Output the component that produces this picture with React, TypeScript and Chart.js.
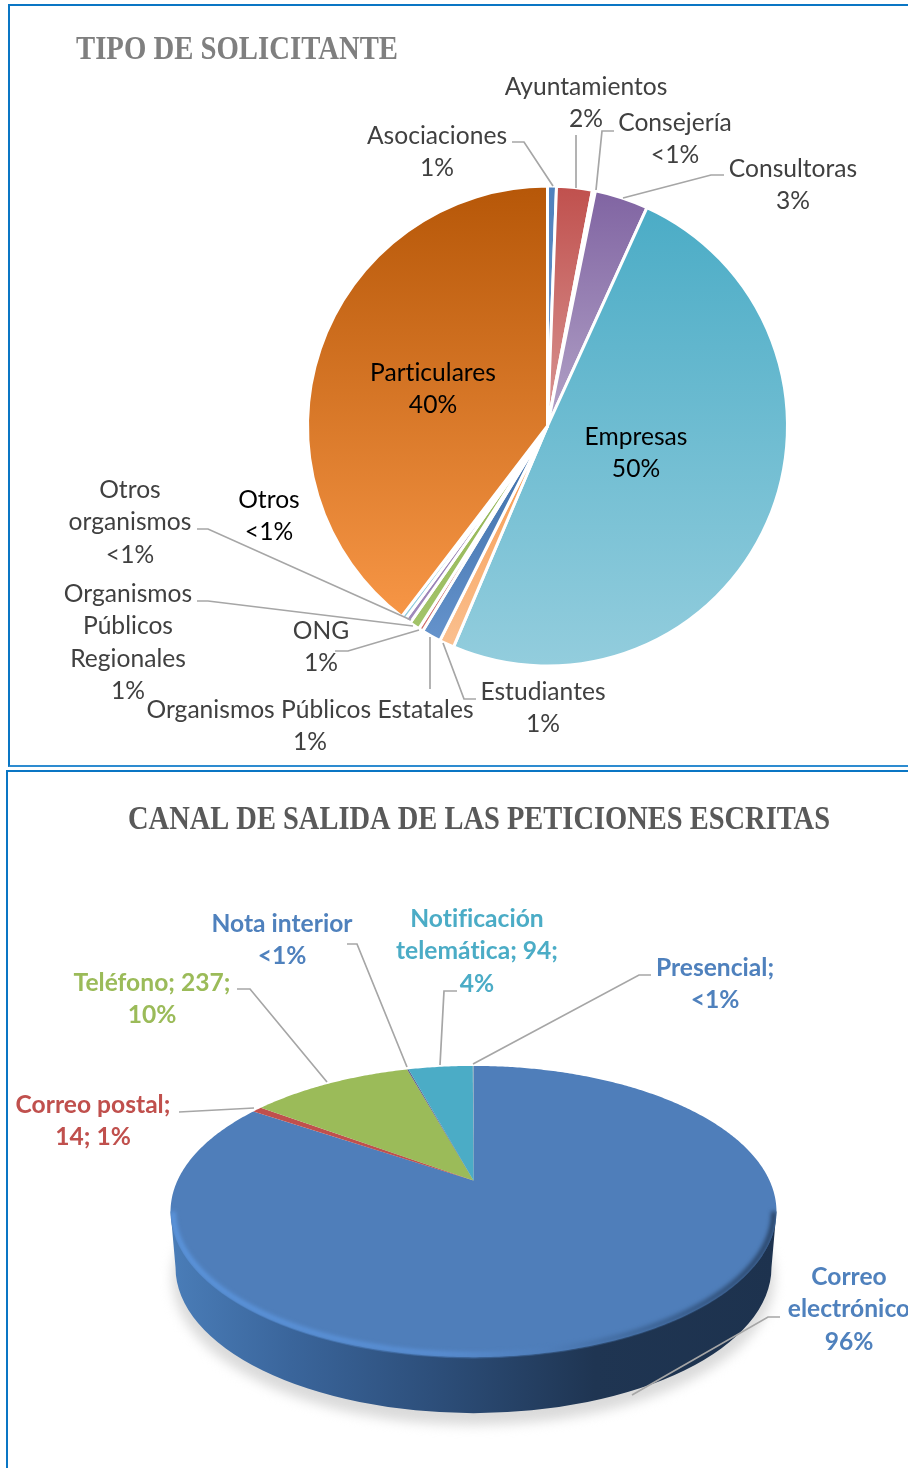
import React, { useEffect, useRef } from "react";
import { Chart, registerables } from "chart.js";

Chart.register(...registerables);

// ---------- data ----------
const SOL_CATEGORIES = ["Asociaciones", "Ayuntamientos", "Consejería", "Consultoras", "Empresas", "Estudiantes", "Organismos Públicos Estatales", "ONG", "Organismos Públicos Regionales", "Otros organismos", "Otros", "Particulares"];
const SOL_VALUES = [0.6, 2.4, 0.2, 3.6, 49.6, 1.0, 1.3, 0.3, 0.7, 0.4, 0.3, 39.6];
const CANAL_CATEGORIES = ["Correo electrónico", "Correo postal", "Teléfono", "Nota interior", "Notificación telemática", "Presencial"];
const CANAL_VALUES = [1880, 14, 237, 2, 94, 1];

// ---------- styles ----------
const SOL_TOP = ["#4F81BD", "#C0504D", "#9BBB59", "#8064A2", "#4BACC6", "#F79646", "#3A6BA5", "#C0504D", "#8FB04E", "#8064A2", "#4BACC6", "#B65708"];
const SOL_BOTTOM = ["#6E98CC", "#D99694", "#C3D69B", "#B2A2C7", "#93CDDD", "#FAC090", "#6593CC", "#D0706D", "#A3C46A", "#A18CBC", "#93CDDD", "#F79646"];
const CANAL_COLORS = ["#4F7EBA", "#C0504D", "#9BBB59", "#5F5F8A", "#4BACC6", "#7FA0B0"];
const INK = "#404040";
const LEADER = "#A6A6A6";
const SANS = "Lato";
const W = 908;
const TOP1_H = 768;
const TOP2_H = 700;
const TOP2_Y = 768;

type Lab = { lines: string[]; x: number; y: number; dy?: number; color?: string; leader?: number[][] };

const SOL_LABELS: Lab[] = [
  { lines: ["Asociaciones", "1%"], x: 437, y: 135, leader: [[512, 142], [524, 142], [553, 186]] },
  { lines: ["Ayuntamientos", "2%"], x: 586, y: 86, leader: [[576, 135], [576, 188]] },
  { lines: ["Consejería", "<1%"], x: 675, y: 122, leader: [[614, 131], [602, 131], [596, 190]] },
  { lines: ["Consultoras", "3%"], x: 793, y: 168, leader: [[724, 175], [711, 175], [623, 198]] },
  { lines: ["Particulares", "40%"], x: 433, y: 372, color: "#000" },
  { lines: ["Empresas", "50%"], x: 636, y: 436, color: "#000" },
  { lines: ["Otros", "<1%"], x: 269, y: 499, color: "#000" },
  { lines: ["Otros", "organismos", "<1%"], x: 130, y: 489, leader: [[197, 529], [208, 529], [411, 620]] },
  { lines: ["Organismos", "Públicos", "Regionales", "1%"], x: 128, y: 593, leader: [[197, 601], [208, 601], [413, 626]] },
  { lines: ["ONG", "1%"], x: 321, y: 630, leader: [[335, 651], [348, 651], [419, 630]] },
  { lines: ["Organismos Públicos Estatales", "1%"], x: 310, y: 709, leader: [[430, 637], [430, 689]] },
  { lines: ["Estudiantes", "1%"], x: 543, y: 691, leader: [[476, 699], [464, 699], [443, 643]] },
];

const BLUE = "#4F81BD";
const CANAL_LABELS: Lab[] = [
  { lines: ["Correo postal;", "14; 1%"], x: 93, y: 1104, color: "#C0504D", leader: [[179, 1112], [254, 1108]] },
  { lines: ["Teléfono; 237;", "10%"], x: 152, y: 982, color: "#9BBB59", leader: [[237, 989], [250, 989], [327, 1082]] },
  { lines: ["Nota interior", "<1%"], x: 282, y: 923, color: BLUE, leader: [[347, 944], [357, 944], [407, 1067]] },
  { lines: ["Notificación", "telemática; 94;", "4%"], x: 477, y: 918, color: "#4BACC6", leader: [[457, 991], [444, 991], [440, 1065]] },
  { lines: ["Presencial;", "<1%"], x: 715, y: 967, color: BLUE, leader: [[651, 975], [639, 975], [473, 1064]] },
  { lines: ["Correo", "electrónico", "96%"], x: 849, y: 1276, color: BLUE, leader: [[780, 1317], [768, 1317], [632, 1395]] },
];

// ---------- plugins ----------
type Title = { text: string; x: number; y: number; width: number; align: CanvasTextAlign; color: string; font: string };
function annotations(id: string, title: Title, labels: Lab[], font: string, offY: number) {
  return {
    id,
    afterDraw(chart: any) {
      const c: any = chart.ctx;
      c.save();
      c.font = title.font;
      c.fillStyle = title.color;
      c.textAlign = title.align;
      c.textBaseline = "middle";
      c.fillText(title.text, title.x, title.y - offY, title.width);
      for (const l of labels) {
        if (l.leader) {
          c.strokeStyle = LEADER;
          c.lineWidth = 1.7;
          c.beginPath();
          l.leader.forEach((p, i) => (i ? c.lineTo(p[0], p[1] - offY) : c.moveTo(p[0], p[1] - offY)));
          c.stroke();
        }
      }
      c.font = font;
      c.textAlign = "center";
      c.letterSpacing = "0.01px"; // keeps "ti" from forming a ligature
      for (const l of labels) {
        c.fillStyle = l.color || INK;
        l.lines.forEach((t, i) => c.fillText(t, l.x, l.y + 1 - offY + i * (l.dy || 32.5)));
      }
      c.restore();
    },
  };
}

// Draws the pie's arcs on a tilted disc: the angles, centre and radius come from the chart's own arc elements.
const K = 0.2131;
const X_FACTOR = 296 / 139;
const DEPTH = 56;
const perspective = {
  id: "perspective",
  beforeDatasetsDraw(chart: any) {
    const c: CanvasRenderingContext2D = chart.ctx;
    const arcs = chart.getDatasetMeta(0).data;
    const { x: cx, y: cy, outerRadius: R } = arcs[0];
    const project = (a: number) => {
      const u = Math.cos(a), v = Math.sin(a), w = 1 - K * v;
      return [cx + (R * X_FACTOR * u) / w, cy + (R * v) / w];
    };
    const rxTop = (R * X_FACTOR) / Math.sqrt(1 - K * K);
    const ryTop = R / (1 - K * K);
    const eyTop = cy + (R * K) / (1 - K * K);
    const rxLow = rxTop - 5;
    const eyLow = eyTop + DEPTH;

    c.save();
    // soft shadow
    c.filter = "blur(6px)";
    c.fillStyle = "#DADADA";
    c.beginPath();
    c.ellipse(cx, eyLow + 11, rxLow + 3, ryTop + 1, 0, 0, Math.PI * 2);
    c.fill();
    c.filter = "none";

    // side wall
    const wall = c.createLinearGradient(cx - rxTop, 0, cx + rxTop, 0);
    wall.addColorStop(0, "#4A7DB8");
    wall.addColorStop(0.2, "#3A659B");
    wall.addColorStop(0.45, "#2C4D78");
    wall.addColorStop(0.7, "#1F3552");
    wall.addColorStop(1, "#1D324E");
    c.fillStyle = wall;
    c.beginPath();
    c.moveTo(cx - rxTop, eyTop);
    c.lineTo(cx - rxLow, eyLow);
    c.ellipse(cx, eyLow, rxLow, ryTop, 0, Math.PI, 0, true);
    c.lineTo(cx + rxTop, eyTop);
    c.closePath();
    c.fill();

    // top face slices
    for (const arc of arcs) {
      const a0 = arc.startAngle, a1 = arc.endAngle;
      const n = Math.max(2, Math.ceil((a1 - a0) / 0.01));
      c.beginPath();
      c.moveTo(cx, cy);
      for (let i = 0; i <= n; i++) {
        const p = project(a0 + ((a1 - a0) * i) / n);
        c.lineTo(p[0], p[1]);
      }
      c.closePath();
      c.fillStyle = arc.options.backgroundColor;
      c.fill();
    }

    // bevelled rim, kept inside the disc's outline
    const rim = c.createLinearGradient(cx - rxTop, 0, cx + rxTop, 0);
    rim.addColorStop(0, "#5C97E0");
    rim.addColorStop(0.45, "#5A90D6");
    rim.addColorStop(0.62, "#4F7EBA");
    rim.addColorStop(0.8, "#3A6090");
    rim.addColorStop(1, "#263F60");
    c.beginPath();
    c.ellipse(cx, eyTop, rxTop, ryTop + 1.5, 0, 0, Math.PI * 2);
    c.clip();
    c.filter = "blur(2px)";
    c.strokeStyle = rim;
    c.lineWidth = 5;
    c.beginPath();
    c.ellipse(cx, eyTop, rxTop - 2.5, ryTop - 2.5, 0, Math.PI * 1.0, 0, true);
    c.stroke();
    c.restore();
    return false;
  },
};

function sliceGradient(ctx: any) {
  const i = ctx.dataIndex;
  if (i === undefined) return SOL_TOP[0];
  const area = ctx.chart.chartArea;
  if (!area) return SOL_TOP[i];
  const vals = SOL_VALUES;
  const total = vals.reduce((a, b) => a + b, 0);
  const before = vals.slice(0, i).reduce((a, b) => a + b, 0);
  const a0 = (before / total) * Math.PI * 2;
  const a1 = ((before + vals[i]) / total) * Math.PI * 2;
  const cy = (area.top + area.bottom) / 2;
  const r = (area.bottom - area.top) / 2;
  let lo = cy, hi = cy;
  for (let k = 0; k <= 60; k++) {
    const y = cy - r * Math.cos(a0 + ((a1 - a0) * k) / 60);
    lo = Math.min(lo, y);
    hi = Math.max(hi, y);
  }
  const g = ctx.chart.ctx.createLinearGradient(0, lo, 0, hi);
  g.addColorStop(0, SOL_TOP[i]);
  g.addColorStop(1, SOL_BOTTOM[i]);
  return g;
}

export default function App() {
  const ref1 = useRef<HTMLCanvasElement>(null);
  const ref2 = useRef<HTMLCanvasElement>(null);

  useEffect(() => {
    const c1 = new Chart(ref1.current as HTMLCanvasElement, {
      type: "pie",
      data: {
        labels: SOL_CATEGORIES,
        datasets: [{ data: SOL_VALUES, backgroundColor: sliceGradient, borderColor: "#fff", borderWidth: 3, borderAlign: "center", hoverOffset: 0 }],
      },
      options: {
        responsive: false,
        animation: false,
        events: [],
        layout: { padding: { left: 306, right: W - 789, top: 184.5, bottom: TOP1_H - 667.5 } },
        plugins: { legend: { display: false }, tooltip: { enabled: false } },
      },
      plugins: [
        annotations("notes1", { text: "TIPO DE SOLICITANTE", x: 76, y: 50, width: 322, align: "left", color: "#7F7F7F", font: "bold 33px 'Liberation Serif'" }, SOL_LABELS, `24.6px ${SANS}`, 0),
      ],
    } as any);

    const apexY = 1180.5 - TOP2_Y;
    const R = 139;
    const c2 = new Chart(ref2.current as HTMLCanvasElement, {
      type: "pie",
      data: {
        labels: CANAL_CATEGORIES,
        datasets: [{ data: CANAL_VALUES, backgroundColor: CANAL_COLORS, borderWidth: 0, hoverOffset: 0 }],
      },
      options: {
        responsive: false,
        animation: false,
        events: [],
        layout: { padding: { left: 473.5 - R, right: W - 473.5 - R, top: apexY - R, bottom: TOP2_H - apexY - R } },
        plugins: { legend: { display: false }, tooltip: { enabled: false } },
      },
      plugins: [
        perspective,
        annotations("notes2", { text: "CANAL DE SALIDA DE LAS PETICIONES ESCRITAS", x: 479, y: 820, width: 702, align: "center", color: "#595959", font: "bold 33px 'Liberation Serif'" }, CANAL_LABELS, `bold 24.6px ${SANS}`, TOP2_Y),
      ],
    } as any);

    return () => {
      c1.destroy();
      c2.destroy();
    };
  }, []);

  return (
    <div style={{ position: "absolute", left: 0, top: 0, width: W, height: 1468, overflow: "hidden", background: "#fff" }}>
      <div style={{ position: "absolute", left: 8, top: 4, width: 1000, height: 759, borderLeft: "2px solid #0A76C4", borderTop: "2px solid #0A76C4", borderBottom: "2px solid #2E8CD0" }} />
      <div style={{ position: "absolute", left: 6, top: 770, width: 1000, height: 800, borderLeft: "2px solid #0A76C4", borderTop: "2px solid #0A76C4" }} />
      <canvas ref={ref1} width={W} height={TOP1_H} style={{ position: "absolute", left: 0, top: 0, width: W, height: TOP1_H }} />
      <canvas ref={ref2} width={W} height={TOP2_H} style={{ position: "absolute", left: 0, top: TOP2_Y, width: W, height: TOP2_H }} />
    </div>
  );
}
